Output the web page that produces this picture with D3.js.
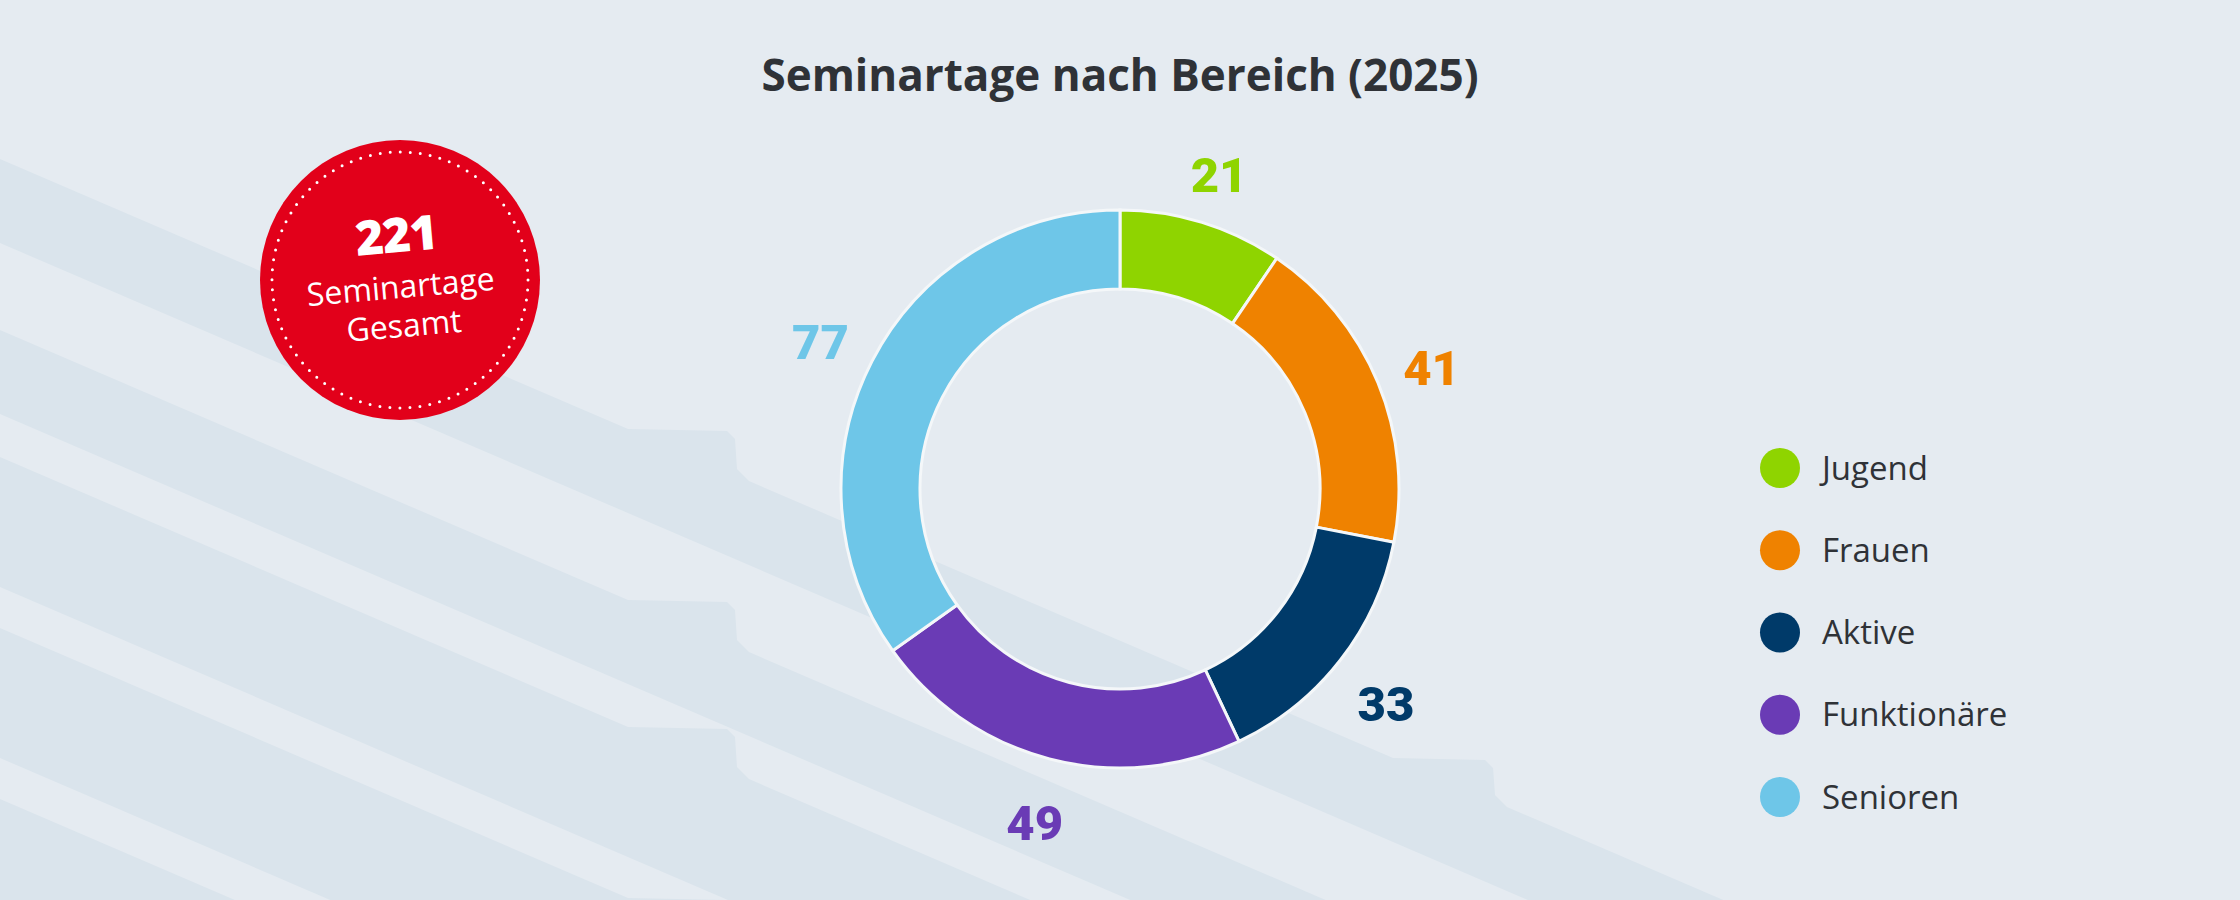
<!DOCTYPE html>
<html>
<head lang="de">
    <meta charset="UTF-8">
    <title>Seminartage nach Bereich (2025)</title>
    <script src="https://cdn.jsdelivr.net/npm/d3@7/dist/d3.min.js"></script>
    <style>
        html, body { margin: 0; padding: 0; background: #e5ebf1; }
        svg { display: block; }
    </style>
</head>
<body>
<svg id="chart" width="2240" height="900"></svg>
<script type="text/javascript">
// Daten
var categories = ['Jugend', 'Frauen', 'Aktive', 'Funktionäre', 'Senioren'];
var values = [21, 41, 33, 49, 77];
var colors = ['#8fd400', '#ef8200', '#003a69', '#6a3bb5', '#6ec6e8'];
var titleText = 'Seminartage nach Bereich (2025)';
var badgeLines = ['Seminartage', 'Gesamt'];

var width = 2240, height = 900;
var svg = d3.select('#chart');

// Hintergrund
svg.append('rect')
   .attr('width', width)
   .attr('height', height)
   .attr('fill', '#e5ebf1');

// dekorative Schraegstreifen (obere/untere Kante bei x=0)
var bands = [[159, 243], [330, 414], [457, 587], [628, 758], [799, 930]];
var slope = 0.43;
function edge(y0, shelf) {
  var pts = [];
  var shelves = [[628, 735], [1393, 1493]];
  pts.push([0, y0]);
  shelves.forEach(function(s) {
    if (shelf) {
      pts.push([s[0], y0 + slope * s[0]]);
      pts.push([s[1] - 8, y0 + slope * s[0] + 2]);
      pts.push([s[1], y0 + slope * s[0] + 10]);
      pts.push([s[1] + 2, y0 + slope * s[1] - 6]);
      pts.push([s[1] + 14, y0 + slope * (s[1] + 14)]);
    }
  });
  pts.push([2400, y0 + slope * 2400]);
  return pts;
}
var bandLine = d3.line().curve(d3.curveLinear);
var bg = svg.append('g').attr('class', 'bands');
bands.forEach(function(b) {
  var top = edge(b[0], true);
  var bottom = edge(b[1], false).reverse();
  bg.append('path')
    .attr('d', bandLine(top.concat(bottom)) + 'Z')
    .attr('fill', '#dae4ec');
});

// Titel
svg.append('text')
   .attr('x', 1120)
   .attr('y', 91)
   .attr('text-anchor', 'middle')
   .style('font-family', '"Open Sans", sans-serif')
   .style('font-weight', 700)
   .style('font-size', '44px')
   .attr('fill', '#2f3237')
   .text(titleText);

// Donut
var cx = 1120, cy = 489;
var pie = d3.pie().sort(null).value(function(d) { return d; });
var arc = d3.arc().innerRadius(200).outerRadius(279);
var labelArc = d3.arc().innerRadius(337).outerRadius(337);
var arcs = pie(values);

var donut = svg.append('g').attr('transform', 'translate(' + cx + ',' + cy + ')');
donut.selectAll('path.slice')
     .data(arcs)
     .enter().append('path')
     .attr('class', 'slice')
     .attr('d', arc)
     .attr('fill', function(d, i) { return colors[i]; })
     .attr('stroke', '#f4f7f9')
     .attr('stroke-width', 3);

donut.selectAll('text.value')
     .data(arcs)
     .enter().append('text')
     .attr('class', 'value')
     .attr('transform', function(d) {
       var c = labelArc.centroid(d);
       return 'translate(' + c[0] + ',' + (c[1] + 7) + ')';
     })
     .attr('text-anchor', 'middle')
     .attr('dy', '0.36em')
     .style('font-family', 'Roboto, sans-serif')
     .style('font-weight', 900)
     .style('font-size', '49px')
     .attr('fill', function(d, i) { return colors[i]; })
     .text(function(d) { return d.data; });

// Gesamt-Plakette
var total = d3.sum(values);
var badge = svg.append('g').attr('transform', 'translate(400,280)');
badge.append('circle').attr('r', 140).attr('fill', '#e2001a');
badge.append('circle')
     .attr('r', 128)
     .attr('fill', 'none')
     .attr('stroke', '#ffffff')
     .attr('stroke-width', 3)
     .attr('stroke-linecap', 'round')
     .attr('stroke-dasharray', '0 ' + (2 * Math.PI * 128 / 80));
var badgeText = badge.append('g').attr('transform', 'rotate(-5)');
badgeText.append('text')
     .attr('y', -28)
     .attr('text-anchor', 'middle')
     .style('font-family', '"Open Sans", sans-serif')
     .style('font-weight', 800)
     .style('font-size', '48px')
     .style('letter-spacing', '-1px')
     .attr('fill', '#ffffff')
     .text(total);
badgeText.selectAll('text.sub')
     .data(badgeLines)
     .enter().append('text')
     .attr('class', 'sub')
     .attr('y', function(d, i) { return 18 + i * 39; })
     .attr('text-anchor', 'middle')
     .style('font-family', '"Open Sans", sans-serif')
     .style('font-size', '32px')
     .attr('fill', '#ffffff')
     .text(function(d) { return d; });

// Legende
var legendY = d3.scalePoint().domain(categories).range([468, 797]);
var legend = svg.append('g').attr('class', 'legend');
var items = legend.selectAll('g.item')
     .data(categories)
     .enter().append('g')
     .attr('class', 'item')
     .attr('transform', function(d) { return 'translate(1780,' + legendY(d) + ')'; });
items.append('circle')
     .attr('r', 20)
     .attr('fill', function(d, i) { return colors[i]; });
items.append('text')
     .attr('x', 42)
     .attr('dy', '0.35em')
     .style('font-family', '"Open Sans", sans-serif')
     .style('font-size', '33px')
     .attr('fill', '#2f3237')
     .text(function(d) { return d; });
</script>
</body>
</html>
